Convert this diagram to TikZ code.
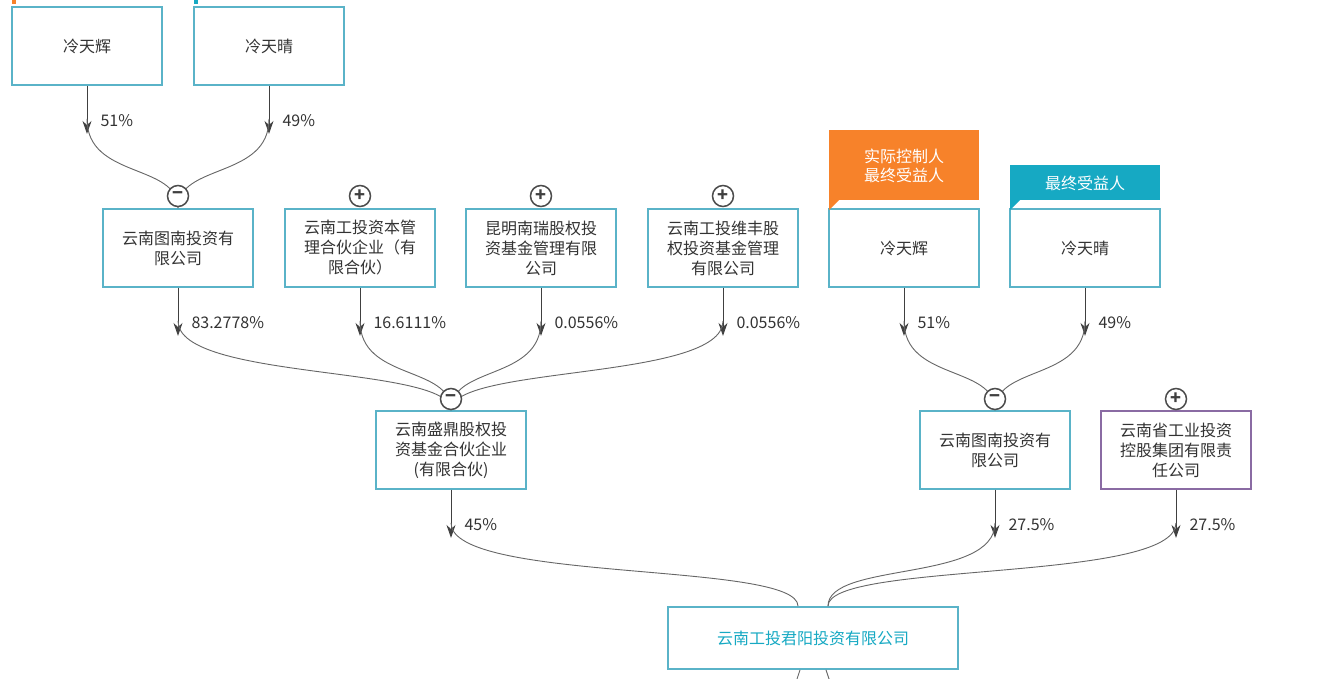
\documentclass[tikz,border=0pt]{standalone}
\usepackage{fontspec}
\setmainfont{Noto Sans CJK SC}
\usetikzlibrary{arrows.meta,positioning,calc}
\definecolor{boxline}{HTML}{5AB3C8}
\definecolor{tagorange}{HTML}{F7822A}
\definecolor{tagcyan}{HTML}{16A9C3}
\definecolor{purpleline}{HTML}{8A6BA3}
\tikzset{
  entity/.style={draw=boxline, line width=1.8pt, fill=white, minimum width=150, minimum height=78, align=center, inner sep=2, font=\fontsize{16}{20}\selectfont, text=black!80},
  toggle/.style={circle, draw=black!70, line width=1.5pt, fill=white, minimum size=21, inner sep=0, font=\bfseries\fontsize{18}{18}\selectfont, text=black!75},
  share/.style={font=\fontsize{16}{18}\selectfont, text=black!80, anchor=west},
  link/.style={draw=black!60, line width=0.9pt},
  tag/.style={text=white, font=\fontsize{16}{19}\selectfont, align=center, minimum width=150, inner sep=3}
}
\newcommand{\holding}[4]{% source, target, label, target x offset
  \draw[link] (#1.south) -- ++(0,33) coordinate (#1a);
  \draw[link, -{Stealth[length=13, width=9]}, black!75] (#1.south) -- ++(0,48);
  \draw[link] (#1a) .. controls ++(0,60) and ($(#2.north)+(#4,-45)$) .. ($(#2.north)+(#4,0)$);
  \node[share] at ($(#1.south)+(10,35)$) {#3};
}
\begin{document}
\begin{tikzpicture}[x=1pt, y=-1pt]
\useasboundingbox[fill=white] (0,0) rectangle (1323,678);
% top row
\node[entity] (fa) at (87,46) {冷天辉};
\node[entity] (fb) at (269,46) {冷天晴};
% second row
\node[entity] (tn) at (178,248) {云南图南投资有\\限公司};
\node[entity] (gt) at (360,248) {云南工投资本管\\理合伙企业（有\\限合伙）};
\node[entity] (km) at (541,248) {昆明南瑞股权投\\资基金管理有限\\公司};
\node[entity] (wf) at (723,248) {云南工投维丰股\\权投资基金管理\\有限公司};
\node[entity] (pa) at (904,248) {冷天辉};
\node[entity] (pb) at (1085,248) {冷天晴};
% third row
\node[entity] (sd) at (451,450) {云南盛鼎股权投\\资基金合伙企业\\(有限合伙)};
\node[entity] (tn2) at (995,450) {云南图南投资有\\限公司};
\node[entity, draw=purpleline] (yg) at (1176,450) {云南省工业投资\\控股集团有限责\\任公司};
% bottom
\node[entity, minimum width=290, minimum height=62, text=tagcyan] (jy) at (813,638) {云南工投君阳投资有限公司};
% tags
\fill[tagorange] (829,130) rectangle (979,200);
\fill[tagorange] (829,200) -- (839,200) -- (829,210) -- cycle;
\node[tag] (tagA) at (904,166) {实际控制人\\最终受益人};
\fill[tagcyan] (1010,165) rectangle (1160,200);
\fill[tagcyan] (1010,200) -- (1020,200) -- (1010,210) -- cycle;
\node[tag] (tagB) at (1085,183) {最终受益人};
\fill[tagorange] (12,0) rectangle (16,4);
\fill[tagcyan] (194,0) rectangle (198,4);
% connectors
\holding{fa}{tn}{51\%}{0}
\holding{fb}{tn}{49\%}{0}
\holding{tn}{sd}{83.2778\%}{0}
\holding{gt}{sd}{16.6111\%}{0}
\holding{km}{sd}{0.0556\%}{0}
\holding{wf}{sd}{0.0556\%}{0}
\holding{pa}{tn2}{51\%}{0}
\holding{pb}{tn2}{49\%}{0}
\holding{sd}{jy}{45\%}{-15}
\holding{tn2}{jy}{27.5\%}{15}
\holding{yg}{jy}{27.5\%}{15}
\draw[link] ($(jy.south)+(-13,0)$) -- ++(-4,12);
\draw[link] ($(jy.south)+(13,0)$) -- ++(4,12);
% toggles
\node[toggle] (c1) at (178,196) {−};
\node[toggle] (c2) at (360,196) {+};
\node[toggle] (c3) at (541,196) {+};
\node[toggle] (c4) at (723,196) {+};
\node[toggle] (c5) at (451,399) {−};
\node[toggle] (c6) at (995,399) {−};
\node[toggle] (c7) at (1176,399) {+};
\end{tikzpicture}
\end{document}
